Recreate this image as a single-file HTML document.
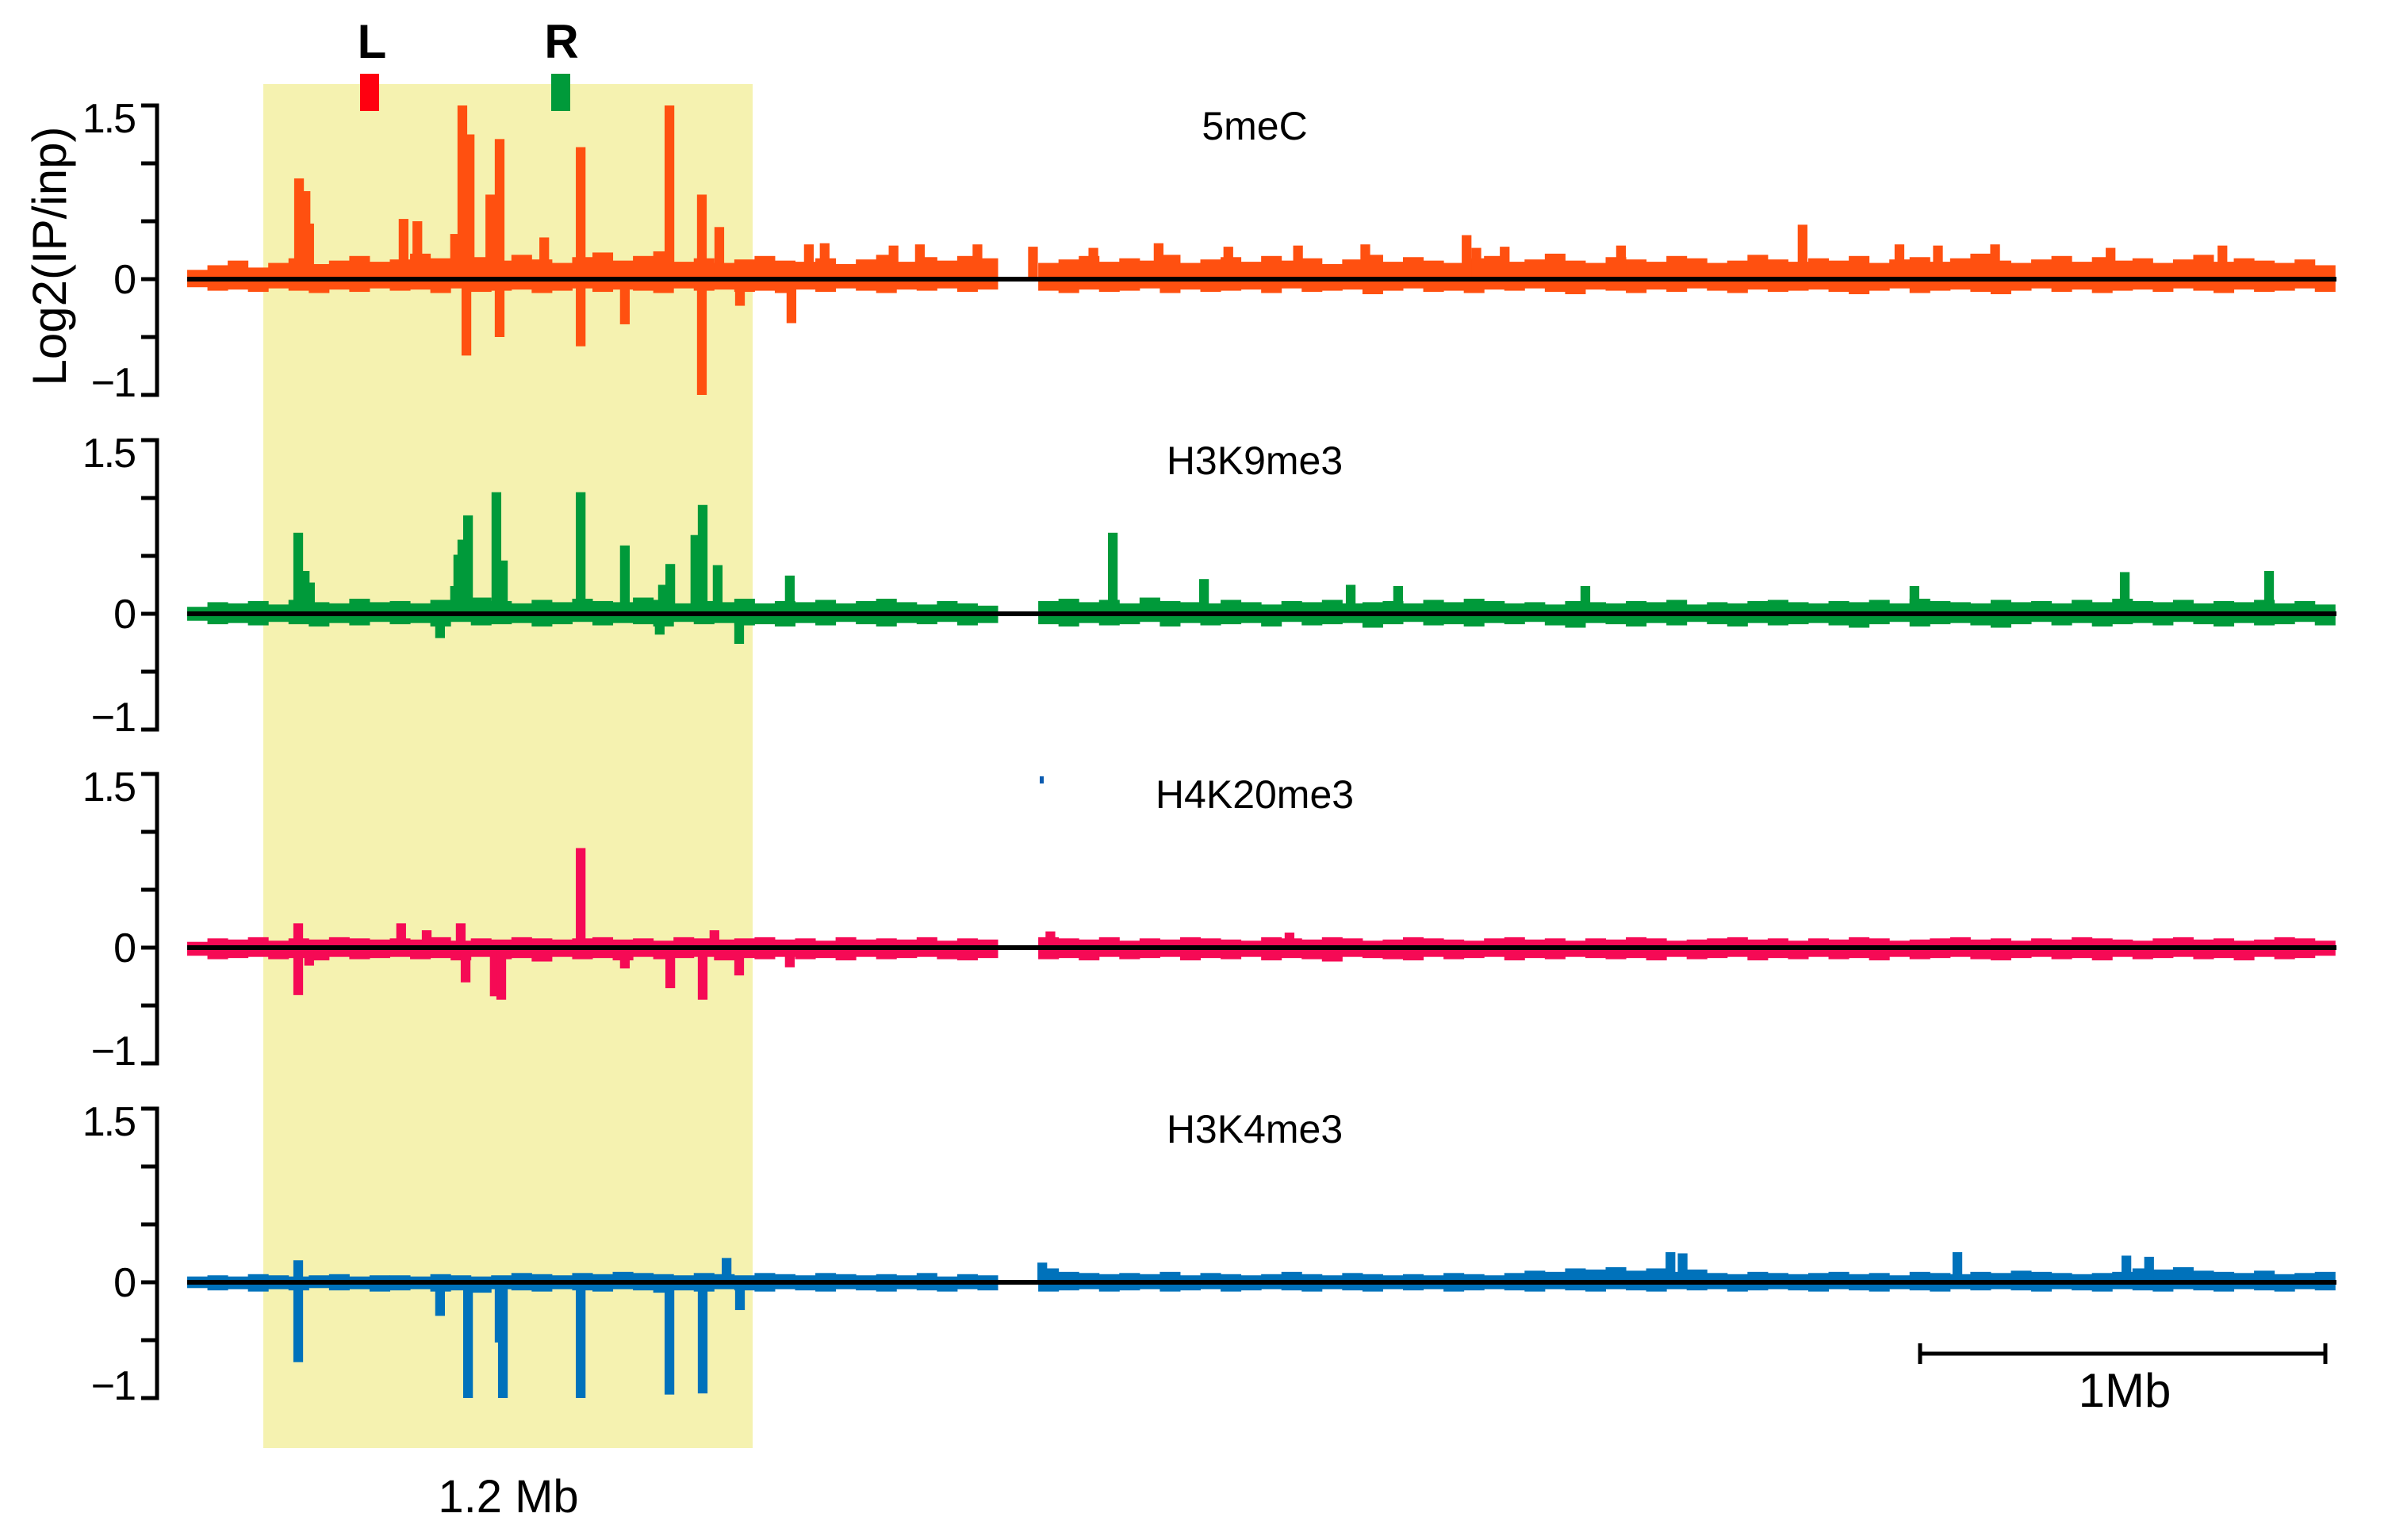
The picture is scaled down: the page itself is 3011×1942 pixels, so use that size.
<!DOCTYPE html>
<html><head><meta charset="utf-8">
<style>
html,body{margin:0;padding:0;background:#fff;}
svg{display:block;font-family:"Liberation Sans",Arial,sans-serif;}
</style></head>
<body>
<svg id="chart" xmlns="http://www.w3.org/2000/svg" width="3011" height="1942" viewBox="0 0 3011 1942">
<rect x="0" y="0" width="3011" height="1942" fill="#ffffff"/>
<rect x="332" y="106" width="617" height="1720" fill="#f5f2b0"/>
<g id="tracks"></g>
<rect x="454" y="93" width="24" height="47" fill="#ff0010"/>
<rect x="695" y="93" width="24" height="47" fill="#009a3a"/>
<text x="469" y="73" font-size="60" font-weight="bold" text-anchor="middle">L</text>
<text x="708" y="73" font-size="60" font-weight="bold" text-anchor="middle">R</text>
<text x="0" y="0" font-size="60" text-anchor="middle" transform="translate(83,323) rotate(-90)">Log2(IP/inp)</text>
<text x="641" y="1907" font-size="58" text-anchor="middle">1.2 Mb</text>
<g stroke="#000" stroke-width="5">
<line x1="2421" y1="1707" x2="2932" y2="1707"/>
<line x1="2421" y1="1694" x2="2421" y2="1720"/>
<line x1="2932" y1="1694" x2="2932" y2="1720"/>
</g>
<text x="2679" y="1774" font-size="60" text-anchor="middle">1Mb</text>
<rect x="1311" y="979" width="5" height="9" fill="#0a5bb0"/>
</svg>
<script>
// ---- data (log2 IP/input), 50 kb background bins ----
const binKb = 50;
const tickValues = [1.5, 1, 0.5, 0, -0.5, -1];
const tickLabels = ["1.5", "", "", "0", "", "\u22121"];
const trackNames = ["5meC", "H3K9me3", "H4K20me3", "H3K4me3"];
const trackColors = ["#ff5010", "#009a3a", "#f50a55", "#0072bb"];

const up1 = [.08,.12,.16,.10,.14,.18,.13,.16,.20,.15, .17,.22,.18,.15,.19,.16,.21,.17,.14,.19, .23,.16,.20,.24,.15,.18,.14,.17,.20,.16, .15,.18,.13,.17,.21,.15,.19,.16,.20,.18, 0,0,.14,.17,.20,.15,.18,.16,.21,.14, .17,.19,.15,.20,.16,.18,.13,.17,.21,.15, .19,.16,.14,.18,.20,.15,.17,.22,.16,.14, .19,.17,.15,.20,.18,.14,.16,.21,.17,.15, .18,.16,.20,.14,.17,.19,.15,.18,.22,.16, .14,.17,.20,.15,.19,.16,.18,.14,.17,.21, .15,.18,.16,.14,.17,.12];
const dn1 = [.07,.10,.09,.11,.08,.10,.12,.09,.11,.08, .10,.09,.12,.08,.11,.10,.09,.12,.10,.08, .11,.09,.10,.12,.08,.10,.09,.11,.10,.12, .09,.11,.08,.10,.12,.09,.10,.08,.11,.09, 0,0,.10,.12,.09,.11,.10,.08,.12,.09, .11,.10,.09,.12,.08,.11,.10,.09,.13,.10, .08,.11,.10,.12,.09,.10,.08,.11,.13,.09, .10,.12,.09,.11,.08,.10,.12,.09,.11,.10, .09,.11,.13,.10,.08,.12,.10,.09,.11,.13, .10,.08,.11,.09,.12,.10,.09,.11,.08,.10, .12,.09,.11,.10,.08,.11];
const up2 = [.06,.10,.09,.11,.08,.12,.10,.09,.13,.10, .11,.09,.12,.10,.14,.11,.09,.12,.10,.13, .11,.10,.14,.12,.09,.11,.10,.13,.09,.11, .10,.12,.09,.11,.13,.10,.08,.11,.09,.07, 0,0,.11,.13,.10,.12,.09,.14,.11,.10, .09,.12,.10,.08,.11,.10,.12,.09,.10,.11, .09,.12,.10,.13,.11,.09,.10,.08,.11,.10, .09,.11,.10,.12,.08,.10,.09,.11,.12,.10, .09,.11,.10,.12,.09,.13,.11,.10,.09,.12, .10,.11,.09,.12,.10,.13,.11,.10,.12,.09, .11,.10,.12,.09,.11,.08];
const dn2 = [.06,.09,.08,.10,.07,.09,.11,.08,.10,.07, .09,.08,.11,.07,.10,.09,.08,.11,.09,.07, .10,.08,.09,.11,.07,.09,.08,.10,.09,.11, .08,.10,.07,.09,.11,.08,.09,.07,.10,.08, 0,0,.09,.11,.08,.10,.09,.07,.11,.08, .10,.09,.08,.11,.07,.10,.09,.08,.12,.09, .07,.10,.09,.11,.08,.09,.07,.10,.12,.08, .09,.11,.08,.10,.07,.09,.11,.08,.10,.09, .08,.10,.12,.09,.07,.11,.09,.08,.10,.12, .09,.07,.10,.08,.11,.09,.08,.10,.07,.09, .11,.08,.10,.09,.07,.10];
const up3 = [.05,.08,.07,.09,.06,.08,.07,.09,.08,.07, .08,.07,.09,.06,.08,.07,.09,.08,.07,.08, .09,.07,.08,.06,.09,.08,.07,.08,.09,.07, .08,.06,.09,.07,.08,.07,.09,.06,.08,.07, 0,0,.09,.08,.07,.09,.06,.08,.07,.09, .08,.07,.06,.09,.08,.07,.09,.08,.06,.07, .09,.08,.07,.06,.08,.09,.07,.08,.06,.08, .07,.09,.08,.06,.07,.08,.09,.07,.08,.06, .08,.07,.09,.08,.06,.07,.08,.09,.07,.08, .06,.08,.07,.09,.08,.07,.06,.08,.09,.07, .08,.06,.07,.09,.08,.06];
const dn3 = [.07,.10,.09,.08,.10,.09,.11,.08,.10,.09, .08,.10,.09,.11,.08,.10,.09,.12,.08,.10, .09,.11,.08,.10,.09,.08,.11,.09,.10,.08, .10,.09,.11,.08,.10,.09,.08,.10,.11,.09, 0,0,.10,.09,.11,.08,.10,.09,.08,.11, .09,.10,.08,.11,.09,.10,.12,.08,.09,.10, .11,.08,.10,.09,.08,.11,.09,.10,.08,.09, .10,.09,.11,.08,.10,.09,.08,.11,.09,.10, .08,.10,.09,.11,.08,.10,.09,.08,.10,.11, .09,.08,.10,.09,.11,.08,.10,.09,.08,.10, .09,.11,.08,.10,.09,.07];
const up4 = [.05,.06,.05,.07,.06,.05,.06,.07,.05,.06, .06,.05,.07,.06,.05,.06,.08,.07,.06,.08, .07,.09,.08,.07,.06,.08,.07,.06,.08,.07, .06,.08,.07,.06,.07,.06,.08,.05,.07,.06, 0,0,.12,.09,.08,.07,.08,.07,.09,.06, .08,.07,.06,.07,.09,.07,.06,.08,.07,.06, .07,.06,.08,.07,.06,.08,.10,.09,.12,.11, .13,.10,.12,.09,.11,.08,.07,.09,.08,.07, .08,.09,.07,.08,.06,.09,.08,.07,.09,.08, .10,.09,.08,.07,.08,.09,.12,.11,.13,.10, .09,.08,.10,.07,.08,.09];
const dn4 = [.05,.07,.06,.08,.06,.07,.05,.07,.06,.08, .07,.06,.08,.07,.09,.06,.07,.08,.06,.07, .08,.06,.07,.09,.07,.08,.06,.07,.08,.06, .07,.08,.06,.07,.08,.06,.07,.08,.06,.07, 0,0,.08,.07,.06,.08,.07,.06,.08,.07, .06,.08,.07,.06,.07,.08,.06,.07,.08,.06, .07,.06,.08,.07,.06,.07,.08,.06,.07,.08, .06,.07,.08,.06,.07,.06,.08,.07,.06,.07, .08,.06,.07,.08,.06,.07,.08,.06,.07,.06, .07,.08,.06,.07,.08,.06,.07,.08,.06,.07, .08,.06,.07,.08,.06,.07];

// peaks: position (kb) and value
const pk1Kb = [276,292,301,534,568,661,679,697,748,771,881,971,1190,1270,1313,3157,3986, 1534,1573,1743,1808,1950,2087,2236,2397,2569,2741,2907,3181,3251,3538,4225,4320,4461,4746,5022, 689,771,971,1080,1270,1364,1491];
const pk1Val = [.87,.76,.48,.52,.50,.39,1.53,1.25,.73,1.21,.36,1.14,1.52,.73,.45,.38,.47, .30,.31,.29,.30,.30,.28,.27,.31,.28,.29,.30,.27,.28,.29,.30,.29,.30,.27,.29, -.66,-.50,-.58,-.39,-1.02,-.23,-.38];
const pk2Kb = [274,290,303,661,669,679,693,763,779,971,1080,1174,1192,1254,1272,1309,1487,2284,2509,2871,2988,3450,4262,4781,5137, 624,1166,1362];
const pk2Val = [.70,.37,.27,.24,.51,.64,.85,1.05,.46,1.05,.59,.25,.43,.68,.94,.42,.33,.70,.30,.25,.24,.24,.24,.36,.37, -.21,-.18,-.26];
const pk3Kb = [274,528,591,675,971,1301,2130,2720, 274,301,687,759,775,1080,1192,1272,1362,1487];
const pk3Val = [.21,.21,.15,.21,.86,.15,.14,.13, -.41,-.155,-.30,-.42,-.45,-.18,-.35,-.45,-.24,-.17];
const pk4Kb = [274,1331,3660,3690,4368,4785,4841,2110, 274,624,693,771,779,971,1190,1272,1364];
const pk4Val = [.19,.21,.26,.25,.26,.23,.22,.17, -.69,-.29,-1.0,-.52,-1.0,-1.0,-.97,-.96,-.24];

const upArrays = [up1, up2, up3, up4];
const dnArrays = [dn1, dn2, dn3, dn4];
const peakKbArrays = [pk1Kb, pk2Kb, pk3Kb, pk4Kb];
const peakValArrays = [pk1Val, pk2Val, pk3Val, pk4Val];

// ---- layout ----
const NS = "http://www.w3.org/2000/svg";
const X0 = 236, PX_PER_KB = 0.511, UNIT = 146, AXIS_X = 198;
const zeros = [352, 774, 1195, 1617];
const titleBaselines = [176, 598, 1019, 1441];
const peakWidthKb = 24;
function xScale(kb){ return X0 + kb * PX_PER_KB; }
function yScale(p, v){ v = Math.max(-1, Math.min(1.5, v)); return zeros[p] - v * UNIT; }
function mk(tag, attrs){ const e = document.createElementNS(NS, tag); for (const k in attrs) e.setAttribute(k, attrs[k]); return e; }

const root = document.getElementById("tracks");
const labelOffsets = {"1.5": 34, "0": 18, "\u22121": 2};
for (let p = 0; p < 4; p++){
  const g = mk("g", {});
  
  
  root.appendChild(g);
  const col = trackColors[p];
  const up = upArrays[p], dn = dnArrays[p];
  for (let i = 0; i < up.length; i++){
    if (!up[i] && !dn[i]) continue;
    const x1 = xScale(i * binKb), x2 = xScale((i + 1) * binKb);
    const r = mk("rect", {x: x1, y: yScale(p, up[i]), width: x2 - x1 + 0.5, height: yScale(p, -dn[i]) - yScale(p, up[i]), fill: col});
    
    
    g.appendChild(r);
  }
  const kbs = peakKbArrays[p], vals = peakValArrays[p];
  for (let i = 0; i < kbs.length; i++){
    const v = vals[i];
    const xa = xScale(kbs[i] - peakWidthKb / 2), xb = xScale(kbs[i] + peakWidthKb / 2);
    const ya = yScale(p, Math.max(v, 0)), yb = yScale(p, Math.min(v, 0));
    const r = mk("rect", {x: xa, y: ya, width: xb - xa, height: yb - ya, fill: col});
    
    
    g.appendChild(r);
  }
  const zl = mk("line", {x1: X0, x2: 2946, y1: zeros[p], y2: zeros[p], stroke: "#000", "stroke-width": 6});
  
  
  g.appendChild(zl);
  const ax = mk("line", {x1: AXIS_X, x2: AXIS_X, y1: yScale(p, 1.5) - 2.5, y2: yScale(p, -1) + 2.5, stroke: "#000", "stroke-width": 5});
  
  
  g.appendChild(ax);
  for (let t = 0; t < tickValues.length; t++){
    const ty = yScale(p, tickValues[t]);
    const tk = mk("line", {x1: 178, x2: AXIS_X, y1: ty, y2: ty, stroke: "#000", "stroke-width": 5});
    
    
    g.appendChild(tk);
    const lab = tickLabels[t];
    if (lab){
      const tx = mk("text", {x: 170, y: ty + labelOffsets[lab], "font-size": 52, "text-anchor": "end", "letter-spacing": "-2"});
      tx.textContent = lab;
      
      
      g.appendChild(tx);
    }
  }
  const title = mk("text", {x: 1582, y: titleBaselines[p], "font-size": 50, "text-anchor": "middle"});
  title.textContent = trackNames[p];
  
  
  g.appendChild(title);
}
</script>
</body></html>
